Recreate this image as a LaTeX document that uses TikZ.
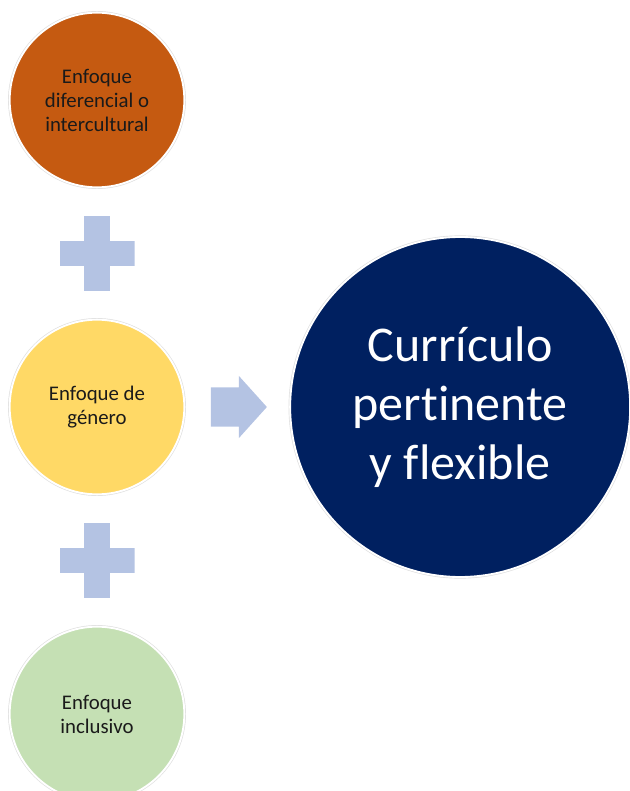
\documentclass[tikz,border=0pt]{standalone}
\usepackage{fontspec}
\setmainfont{Carlito}[Ligatures=NoCommon]
\usetikzlibrary{positioning,shapes.arrows}
\definecolor{rustorange}{HTML}{C55A11}
\definecolor{softyellow}{HTML}{FFD966}
\definecolor{softgreen}{HTML}{C5E0B4}
\definecolor{deepnavy}{HTML}{002060}
\definecolor{plusblue}{HTML}{B4C3E3}
\definecolor{inktext}{HTML}{1A1A1A}

\begin{document}
\begin{tikzpicture}[
    x=0.75pt, y=0.75pt,
    node distance=20.6pt,
    every node/.style={font=\fontsize{15.6}{18}\selectfont},
    ringbase/.style={
      circle, draw=white, line width=1.4pt, minimum size=131pt,
      inner sep=2pt, align=center, text=inktext,
      preaction={draw=gray!25, line width=2.4pt}
    },
    ringorange/.style={ringbase, fill=rustorange},
    ringyellow/.style={ringbase, fill=softyellow},
    ringgreen/.style={ringbase, fill=softgreen},
    bigring/.style={ringbase, fill=deepnavy, minimum size=255pt, text=white,
      font=\fontsize{37.5}{44}\selectfont},
    plussign/.style={
      rectangle, minimum size=56.25pt, inner sep=0pt,
      path picture={
        \fill[plusblue] ([xshift=-9.4pt]path picture bounding box.north)
          rectangle ([xshift=9.4pt]path picture bounding box.south);
        \fill[plusblue] ([yshift=9.4pt]path picture bounding box.west)
          rectangle ([yshift=-9.4pt]path picture bounding box.east);
      }
    },
    flowarrow/.style={
      single arrow, fill=plusblue, inner xsep=0pt, inner ysep=14.6pt,
      minimum height=42pt, minimum width=46.5pt,
      single arrow head extend=8.6pt, single arrow tip angle=96
    }
  ]
    \useasboundingbox (0,0) rectangle (630,-791);

    % Column of approaches
    \node[ringorange] (t1) at (97,-100) {Enfoque\\diferencial o\\intercultural};
    \node[plussign, below=of t1] (p1) {};
    \node[ringyellow, below=of p1] (t2) {Enfoque de\\género};
    \node[plussign, below=of t2] (p2) {};
    \node[ringgreen, below=of p2] (t3) {Enfoque\\inclusivo};

    % Result
    \node[flowarrow, right=19pt of t2] (arr) {};
    \node[bigring, right=16.5pt of arr] (res) {Currículo\\pertinente\\y flexible};

  \end{tikzpicture}
\end{document}
